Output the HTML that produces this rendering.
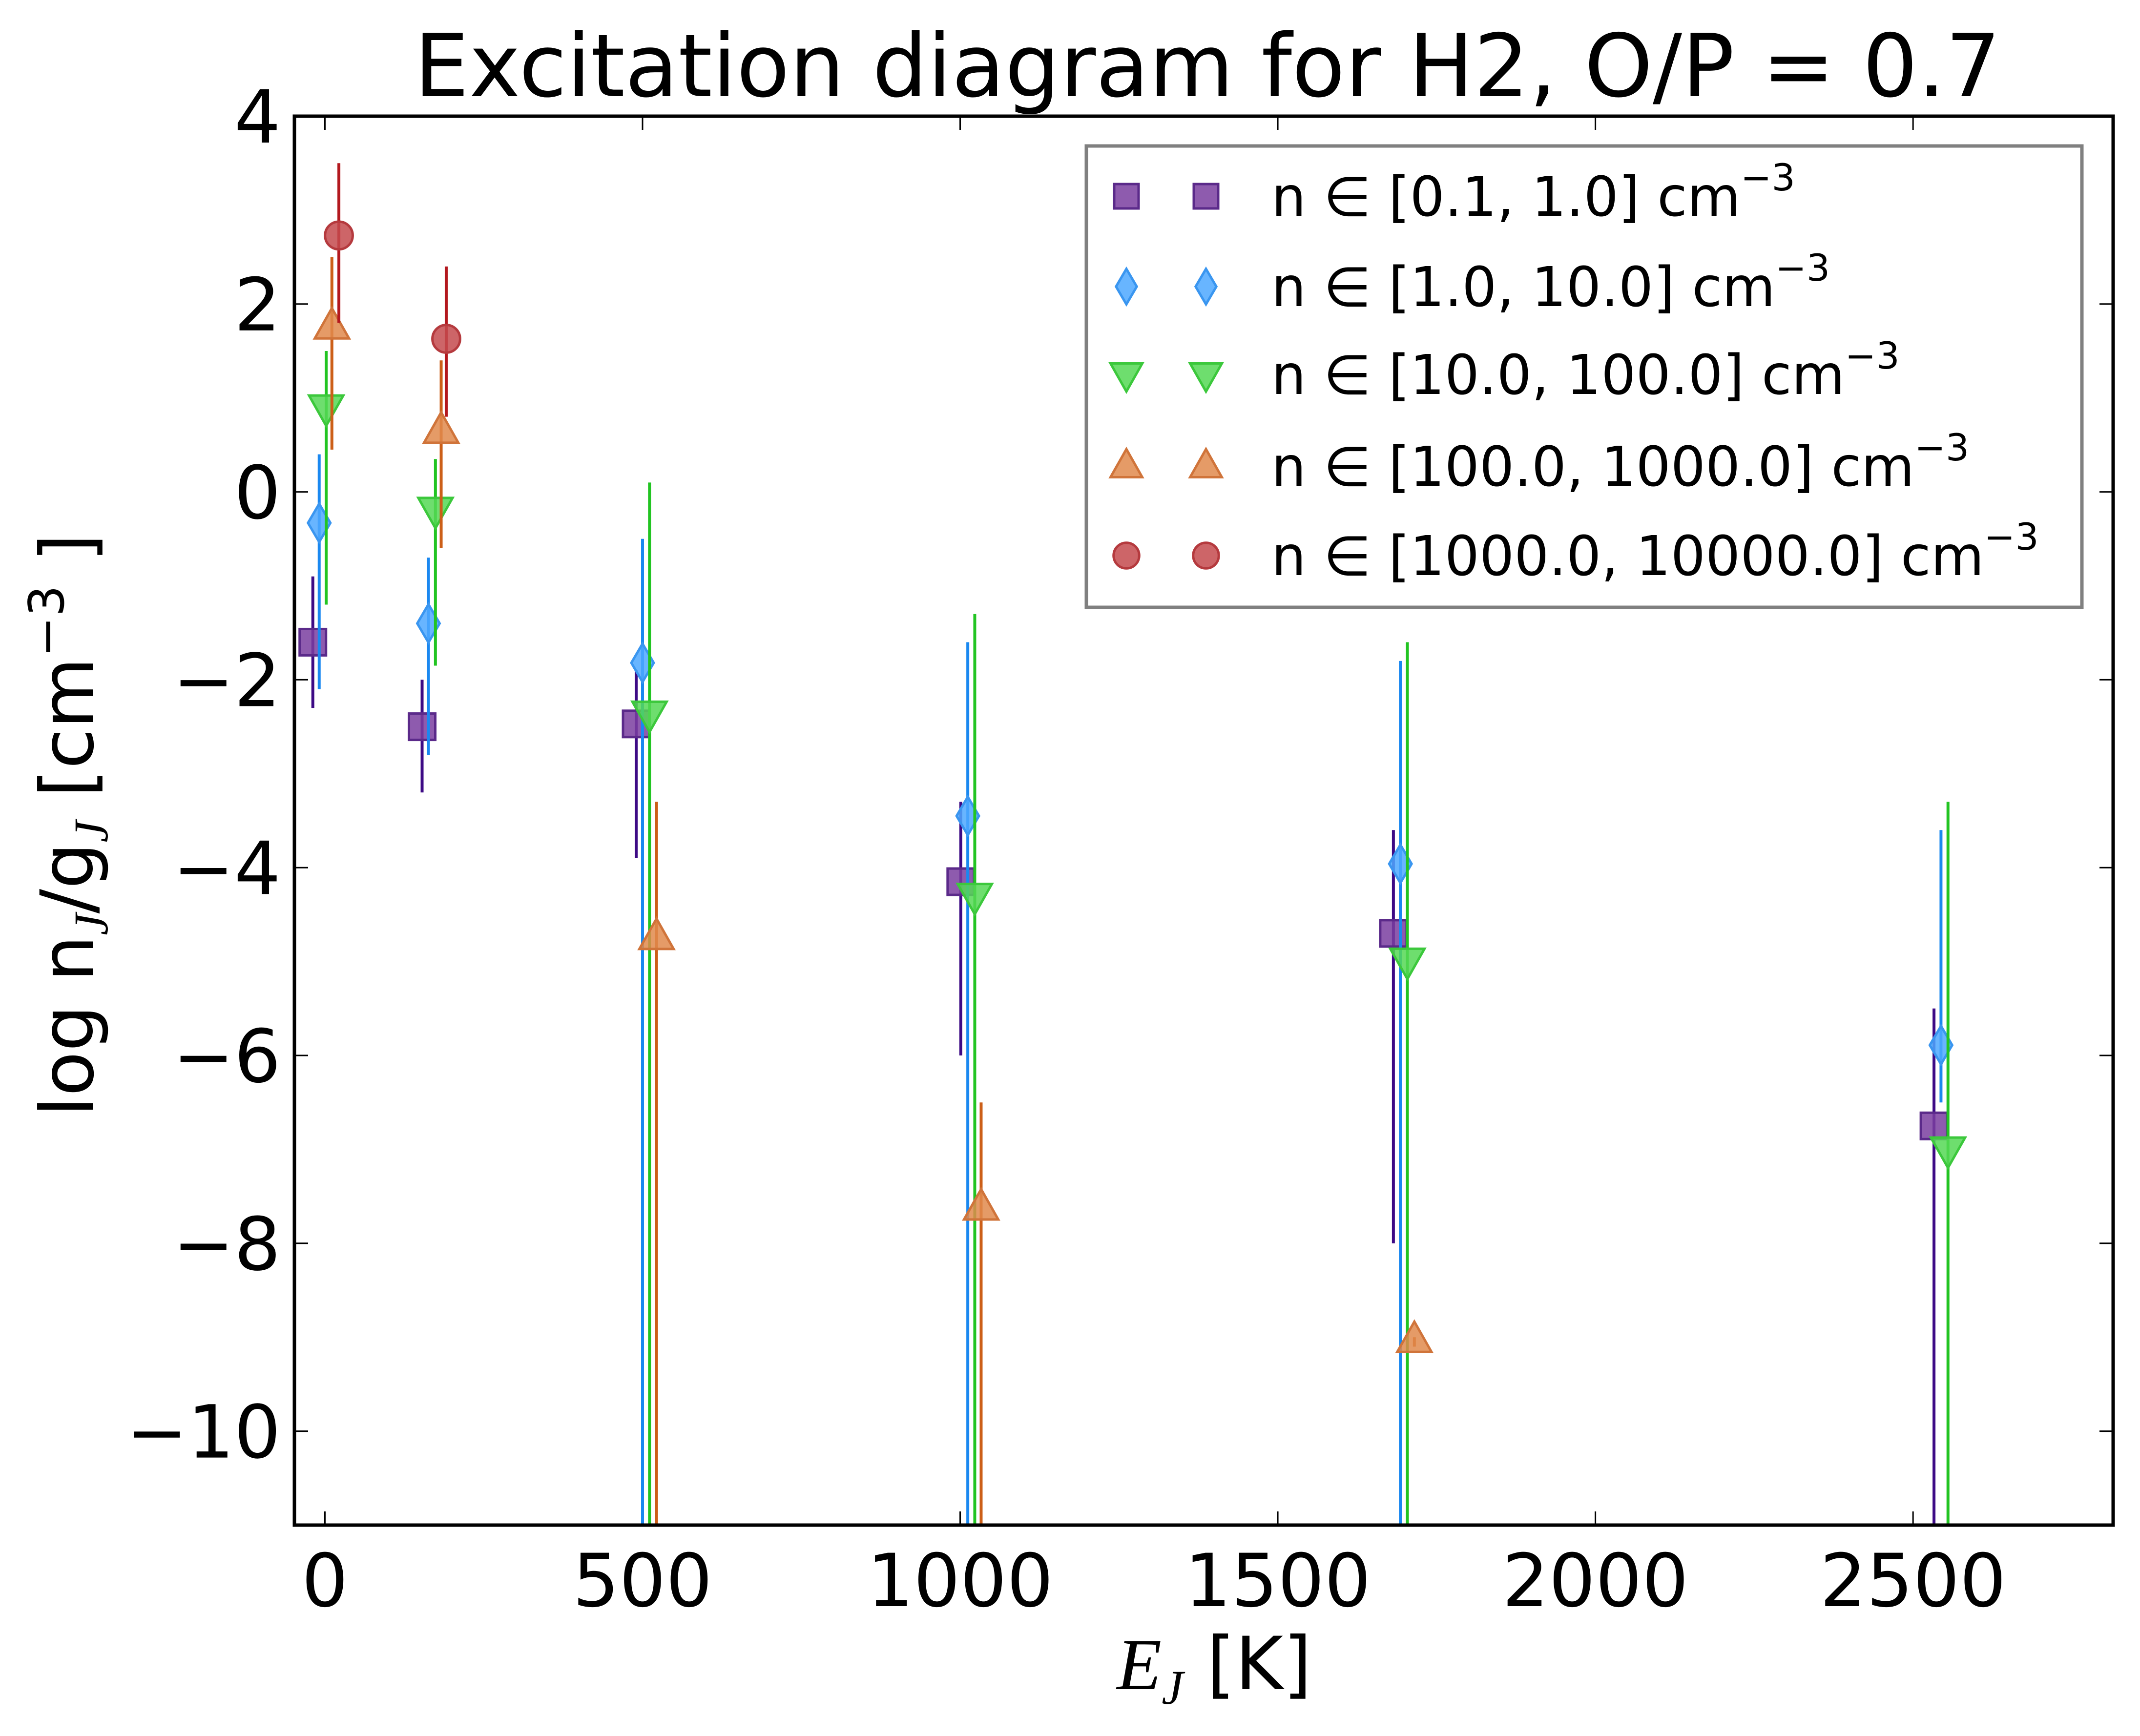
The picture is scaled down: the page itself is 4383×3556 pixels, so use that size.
<!DOCTYPE html>
<html><head><meta charset="utf-8">
<style>
html,body{margin:0;padding:0;background:#fff;}
svg{display:block;}
text{font-family:"DejaVu Sans","Liberation Sans",sans-serif;fill:#000;}
</style></head>
<body>
<svg id="chart" width="4383" height="3556" viewBox="0 0 4383 3556" xmlns="http://www.w3.org/2000/svg">
<defs><clipPath id="plotclip"><rect x="603" y="238" width="3725" height="2886"/></clipPath></defs>
<rect x="0" y="0" width="4383" height="3556" fill="#fff"/>
<text x="2473" y="197" font-size="178" text-anchor="middle">Excitation diagram for H2, O/P = 0.7</text>
<g id="grid-ticks"></g>
<g id="series" clip-path="url(#plotclip)"></g>
<rect x="603" y="238" width="3725" height="2886" fill="none" stroke="#000" stroke-width="7"/>
<g id="ticklabels"></g>
<text x="2487" y="3460" font-size="150" text-anchor="middle"><tspan font-family="Liberation Serif, serif" font-style="italic">E</tspan><tspan font-family="Liberation Serif, serif" font-style="italic" font-size="100" dy="30">J</tspan><tspan dy="-30"> [K]</tspan></text>
<text transform="translate(190,1690) rotate(-90)" font-size="150" text-anchor="middle">log n<tspan font-family="Liberation Serif, serif" font-style="italic" font-size="100" dy="30">J</tspan><tspan dy="-30">/g</tspan><tspan font-family="Liberation Serif, serif" font-style="italic" font-size="100" dy="30">J</tspan><tspan dy="-30"> [cm</tspan><tspan font-size="100" dy="-60">−3</tspan><tspan dy="60"> ]</tspan></text>
<g id="legend"></g>
</svg>
<script>
const xTicks=[0,500,1000,1500,2000,2500];
const yTicks=[4,2,0,-2,-4,-6,-8,-10];
const seriesNames=["n ∈ [0.1, 1.0] cm","n ∈ [1.0, 10.0] cm","n ∈ [10.0, 100.0] cm","n ∈ [100.0, 1000.0] cm","n ∈ [1000.0, 10000.0] cm"];
const xPurple=[-19,153,490,1001,1682,2533];
const yPurple=[-1.6,-2.5,-2.47,-4.15,-4.7,-6.75];
const hiPurple=[-0.9,-2.0,-1.9,-3.3,-3.6,-5.5];
const loPurple=[-2.3,-3.2,-3.9,-6.0,-8.0,-11.5];
const xBlue=[-9,163,500,1012,1693,2544];
const yBlue=[-0.33,-1.4,-1.82,-3.45,-3.96,-5.89];
const hiBlue=[0.4,-0.7,-0.5,-1.6,-1.8,-3.6];
const loBlue=[-2.1,-2.8,-11.5,-11.5,-11.5,-6.5];
const xGreen=[2,174,511,1023,1704,2555];
const yGreen=[0.9,-0.19,-2.36,-4.3,-4.99,-7.0];
const hiGreen=[1.5,0.35,0.1,-1.3,-1.6,-3.3];
const loGreen=[-1.2,-1.85,-11.5,-11.5,-11.5,-11.5];
const xOrange=[11,183,522,1033,1715];
const yOrange=[1.76,0.65,-4.74,-7.62,-9.03];
const hiOrange=[2.5,1.4,-3.3,-6.5,-9.0];
const loOrange=[0.45,-0.6,-11.5,-11.5,-9.1];
const xRed=[22,191];
const yRed=[2.73,1.63];
const hiRed=[3.5,2.4];
const loRed=[1.8,0.8];

const X0=603,X1=4328,XMIN=-48,XMAX=2815;
const Y0=238,Y1=3124,YMAX=4,YMIN=-11;
function sx(v){return X0+(v-XMIN)/(XMAX-XMIN)*(X1-X0);}
function sy(v){return Y0+(YMAX-v)/(YMAX-YMIN)*(Y1-Y0);}
const NS="http://www.w3.org/2000/svg";
function mk(tag,attrs,parent){const e=document.createElementNS(NS,tag);for(const k in attrs)e.setAttribute(k,attrs[k]);parent.appendChild(e);return e;}

const gt=document.getElementById('grid-ticks');
const gl=document.getElementById('ticklabels');
xTicks.forEach(t=>{
  const x=sx(t);
  const a=mk('line',{x1:x,x2:x,y1:Y1,y2:Y1-28,stroke:'#000','stroke-width':3},gt);
  
  
  const b=mk('line',{x1:x,x2:x,y1:Y0,y2:Y0+28,stroke:'#000','stroke-width':3},gt);
  
  
  const l=mk('text',{x:x,y:3290,'font-size':150,'text-anchor':'middle'},gl);
  l.textContent=String(t);
  
  
});
yTicks.forEach(t=>{
  const y=sy(t);
  const a=mk('line',{x1:X0,x2:X0+28,y1:y,y2:y,stroke:'#000','stroke-width':3},gt);
  
  
  const b=mk('line',{x1:X1,x2:X1-28,y1:y,y2:y,stroke:'#000','stroke-width':3},gt);
  
  
  const l=mk('text',{x:575,y:y+54,'font-size':150,'text-anchor':'end'},gl);
  l.textContent=(t<0?'−':'')+Math.abs(t);
  
  
});

function marker(shape,cx,cy,s,fill,stroke,parent){
  let e;
  if(shape==='square'){e=mk('rect',{x:cx-s,y:cy-s,width:2*s,height:2*s},parent);}
  else if(shape==='diamond'){e=mk('polygon',{points:`${cx},${cy-s*1.45} ${cx+s*0.85},${cy} ${cx},${cy+s*1.45} ${cx-s*0.85},${cy}`},parent);}
  else if(shape==='down'){e=mk('polygon',{points:`${cx-s*1.3},${cy-s*0.9} ${cx+s*1.3},${cy-s*0.9} ${cx},${cy+s*1.4}`},parent);}
  else if(shape==='up'){e=mk('polygon',{points:`${cx-s*1.3},${cy+s*0.9} ${cx+s*1.3},${cy+s*0.9} ${cx},${cy-s*1.4}`},parent);}
  else {e=mk('circle',{cx:cx,cy:cy,r:s*1.05},parent);}
  e.setAttribute('fill',fill);e.setAttribute('fill-opacity','0.85');
  e.setAttribute('stroke',stroke);e.setAttribute('stroke-width','5');
  return e;
}
const series=[
 {xs:xPurple,ys:yPurple,hi:hiPurple,lo:loPurple,shape:'square',fill:'#7a3ea0',stroke:'#5b2a8a',err:'#3d0a85',name:'purple'},
 {xs:xBlue,ys:yBlue,hi:hiBlue,lo:loBlue,shape:'diamond',fill:'#4ea8ff',stroke:'#3a96f0',err:'#1a88f0',name:'blue'},
 {xs:xGreen,ys:yGreen,hi:hiGreen,lo:loGreen,shape:'down',fill:'#55d855',stroke:'#3cc83c',err:'#22c422',name:'green'},
 {xs:xOrange,ys:yOrange,hi:hiOrange,lo:loOrange,shape:'up',fill:'#e08a4c',stroke:'#d0743a',err:'#cc5f18',name:'orange'},
 {xs:xRed,ys:yRed,hi:hiRed,lo:loRed,shape:'circle',fill:'#c44a4e',stroke:'#b53a3e',err:'#b3181e',name:'red'}
];
const gs=document.getElementById('series');
series.forEach(s=>{
  s.xs.forEach((xv,i)=>{
    const x=sx(xv);
    const e=mk('line',{x1:x,x2:x,y1:sy(s.hi[i]),y2:sy(s.lo[i]),stroke:s.err,'stroke-width':6},gs);
    
    
  });
  s.xs.forEach((xv,i)=>{
    const m=marker(s.shape,sx(xv),sy(s.ys[i]),27,s.fill,s.stroke,gs);
    
    
  });
});

const lg=document.getElementById('legend');
const box=mk('rect',{x:2225,y:299,width:2039,height:945,fill:'#fff',stroke:'#808080','stroke-width':7},lg);


const rowY=[402,587,767,955,1138];
series.forEach((s,i)=>{
  const y=rowY[i];
  const g=mk('g',{},lg);
  
  
  marker(s.shape,2307,y,25,s.fill,s.stroke,g);
  marker(s.shape,2470,y,25,s.fill,s.stroke,g);
  const t=mk('text',{x:2604,y:y+40,'font-size':112},g);
  t.textContent=seriesNames[i];
  const sup=mk('tspan',{'font-size':76,dy:-52},t);
  sup.textContent='−3';
});
</script>
</body></html>
